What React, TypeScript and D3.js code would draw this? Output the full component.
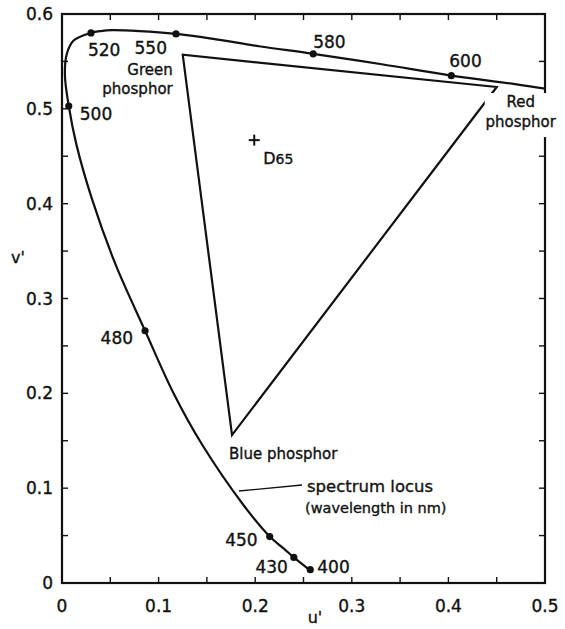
import React from "react";
import * as d3 from "d3";

const W = 565;
const H = 629;

// Spectrum locus in CIE 1976 u'v' coordinates
const locusWavelengths = [400, 410, 420, 430, 440, 450, 460, 470, 475, 480, 485, 490, 495, 500, 505, 510, 515, 520, 525, 530, 540, 550, 560, 570, 580, 590, 600, 610, 620];
const locusU = [0.257, 0.255, 0.251, 0.240, 0.230, 0.215, 0.188, 0.145, 0.116, 0.086, 0.055, 0.031, 0.015, 0.007, 0.003, 0.005, 0.012, 0.030, 0.040, 0.052, 0.080, 0.118, 0.155, 0.204, 0.260, 0.331, 0.403, 0.469, 0.520];
const locusV = [0.014, 0.015, 0.018, 0.027, 0.036, 0.049, 0.082, 0.146, 0.199, 0.266, 0.337, 0.405, 0.462, 0.503, 0.536, 0.558, 0.572, 0.580, 0.582, 0.583, 0.582, 0.579, 0.574, 0.566, 0.558, 0.547, 0.535, 0.526, 0.518];

// Wavelengths marked with a dot and a label
const markedWavelengths = [400, 430, 450, 480, 500, 520, 550, 580, 600];

// Display phosphor primaries
const phosphorNames = ["Red", "Green", "Blue"];
const phosphorU = [0.450, 0.125, 0.176];
const phosphorV = [0.523, 0.557, 0.156];

// White point
const whitePointName = "D65";
const whitePointU = [0.199];
const whitePointV = [0.467];

const xTickLabels = [0, 0.1, 0.2, 0.3, 0.4, 0.5];
const yTickLabels = [0, 0.1, 0.2, 0.3, 0.4, 0.5, 0.6];
const minorStep = 0.05;

// Label placement relative to each marked dot
const markLabelLayout: Record<number, { dx: number; dy: number; anchor: string }> = {
  400: { dx: 7, dy: 3, anchor: "start" },
  430: { dx: -6, dy: 16, anchor: "end" },
  450: { dx: -12, dy: 9, anchor: "end" },
  480: { dx: -12, dy: 13, anchor: "end" },
  500: { dx: 11, dy: 14, anchor: "start" },
  520: { dx: -3, dy: 23, anchor: "start" },
  550: { dx: -9, dy: 20, anchor: "end" },
  580: { dx: 0, dy: -6, anchor: "start" },
  600: { dx: -2, dy: -9, anchor: "start" },
};

const FONT = "'DejaVu Sans', 'Liberation Sans', Arial, sans-serif";
// slight outline gives the lettering a heavier, printed look
const INK = { fill: "#111", stroke: "#111", strokeWidth: 0.35 };

export default function App() {
  const x = d3.scaleLinear().domain([0, 0.5]).range([62, 545]);
  const y = d3.scaleLinear().domain([0, 0.6]).range([583, 14]);
  const [x0, x1] = x.range();
  const [y0, y1] = y.range();

  const locus = locusWavelengths.map((w, i) => ({ w, u: locusU[i], v: locusV[i] }));
  const locusPath = d3
    .line<{ u: number; v: number }>()
    .x((d) => x(d.u))
    .y((d) => y(d.v))
    .curve(d3.curveCatmullRom.alpha(0.5))(locus) as string;

  const tri = phosphorNames.map((n, i) => ({ n, u: phosphorU[i], v: phosphorV[i] }));
  const triPath = d3
    .line<{ u: number; v: number }>()
    .x((d) => x(d.u))
    .y((d) => y(d.v))
    .curve(d3.curveLinearClosed)(tri) as string;

  const xMinor = d3.range(0, 0.5 + 1e-9, minorStep);
  const yMinor = d3.range(0, 0.6 + 1e-9, minorStep);
  const tick = 6;

  const red = tri[0];
  const green = tri[1];
  const blue = tri[2];
  const wx = x(whitePointU[0]);
  const wy = y(whitePointV[0]);

  return (
    <svg width={W} height={H} viewBox={`0 0 ${W} ${H}`} style={{ display: "block", position: "absolute", left: 0, top: 0, background: "#fff" }}>
      <defs>
        <clipPath id="plotClip">
          <rect x={x0} y={y1} width={x1 - x0} height={y0 - y1} />
        </clipPath>
      </defs>
      <rect width={W} height={H} fill="#fff" />

      {/* ticks on all four sides, pointing inward */}
      <g stroke="#111" strokeWidth={1.4}>
        {xMinor.map((t) => (
          <g key={"xt" + t}>
            <line x1={x(t)} x2={x(t)} y1={y0} y2={y0 - tick} />
            <line x1={x(t)} x2={x(t)} y1={y1} y2={y1 + tick} />
          </g>
        ))}
        {yMinor.map((t) => (
          <g key={"yt" + t}>
            <line x1={x0} x2={x0 + tick} y1={y(t)} y2={y(t)} />
            <line x1={x1} x2={x1 - tick} y1={y(t)} y2={y(t)} />
          </g>
        ))}
      </g>

      {/* spectrum locus */}
      <path d={locusPath} fill="none" stroke="#111" strokeWidth={2.2} clipPath="url(#plotClip)" />

      {/* phosphor gamut */}
      <path d={triPath} fill="none" stroke="#111" strokeWidth={2.2} strokeLinejoin="miter" />

      {/* frame */}
      <rect x={x0} y={y1} width={x1 - x0} height={y0 - y1} fill="none" stroke="#111" strokeWidth={2.2} />

      {/* marked wavelengths */}
      {markedWavelengths.map((w) => {
        const i = locusWavelengths.indexOf(w);
        const cx = x(locusU[i]);
        const cy = y(locusV[i]);
        const l = markLabelLayout[w];
        return (
          <g key={"m" + w}>
            <circle cx={cx} cy={cy} r={3.6} fill="#111" />
            <text x={cx + l.dx} y={cy + l.dy} textAnchor={l.anchor} fontFamily={FONT} fontSize={17} {...INK}>
              {w}
            </text>
          </g>
        );
      })}

      {/* phosphor labels */}
      <rect x={x(red.u) - 12} y={y(red.v) + 6} width={70} height={44} fill="#fff" />
      <g fontFamily={FONT} fontSize={15} {...INK}>
        <text x={x(green.u) - 10} y={y(green.v) + 20} textAnchor="end">{phosphorNames[1]}</text>
        <text x={x(green.u) - 10} y={y(green.v) + 39} textAnchor="end">phosphor</text>

        <text x={x(red.u) + 24} y={y(red.v) + 20} textAnchor="middle">{phosphorNames[0]}</text>
        <text x={x(red.u) + 24} y={y(red.v) + 40} textAnchor="middle">phosphor</text>

        <text x={x(blue.u) - 3} y={y(blue.v) + 24} textAnchor="start">{phosphorNames[2]} phosphor</text>
      </g>

      {/* white point */}
      <g stroke="#111" strokeWidth={2}>
        <line x1={wx - 5.5} x2={wx + 5.5} y1={wy} y2={wy} />
        <line x1={wx} x2={wx} y1={wy - 5.5} y2={wy + 5.5} />
      </g>
      <text x={wx + 9} y={wy + 24} fontFamily={FONT} {...INK}>
        <tspan fontSize={16}>{whitePointName.slice(0, 1)}</tspan>
        <tspan fontSize={14}>{whitePointName.slice(1)}</tspan>
      </text>

      {/* locus annotation */}
      <line x1={239} y1={491} x2={302} y2={485} stroke="#111" strokeWidth={1.3} />
      <text x={307} y={492} fontFamily={FONT} fontSize={16.5} {...INK}>spectrum locus</text>
      <text x={305} y={513} fontFamily={FONT} fontSize={14.5} {...INK}>(wavelength in nm)</text>

      {/* tick labels */}
      <g fontFamily={FONT} fontSize={17} {...INK}>
        {xTickLabels.map((t) => (
          <text key={"xl" + t} x={x(t)} y={612} textAnchor="middle">
            {d3.format("")(t)}
          </text>
        ))}
        {yTickLabels.map((t) => (
          <text key={"yl" + t} x={53} y={y(t)} textAnchor="end" dominantBaseline="central">
            {d3.format("")(t)}
          </text>
        ))}
      </g>

      {/* axis titles */}
      <text x={315} y={623} textAnchor="middle" fontFamily={FONT} fontSize={16} {...INK}>u'</text>
      <text x={18} y={263} textAnchor="middle" fontFamily={FONT} fontSize={16} {...INK}>v'</text>
    </svg>
  );
}
